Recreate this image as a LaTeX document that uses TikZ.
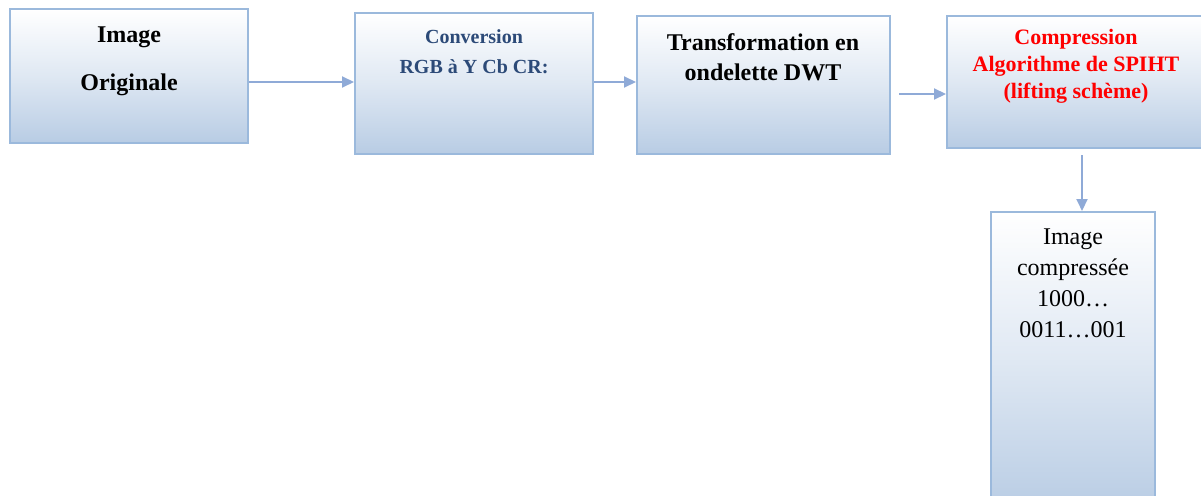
\documentclass[tikz,border=0pt]{standalone}
\usepackage{fontspec}
\setmainfont{Liberation Serif}
\usetikzlibrary{arrows.meta}
\definecolor{boxborder}{RGB}{155,185,220}
\definecolor{boxbottom}{RGB}{184,204,228}
\definecolor{arrowcol}{RGB}{143,170,215}
\definecolor{convblue}{RGB}{44,74,120}
\tikzset{
  box/.style={draw=boxborder, line width=2pt, top color=white, bottom color=boxbottom, middle color=white!55!boxbottom, shading angle=0, inner sep=0pt},
  lbl/.style={anchor=north, inner sep=0pt, align=center},
  conn/.style={draw=arrowcol, line width=2pt, -{Triangle[length=12pt,width=11pt]}}
}
\begin{document}
\begin{tikzpicture}[x=1pt,y=-1pt]
\useasboundingbox (0,0) rectangle (1201,495);
\clip (0,0) rectangle (1201,495);
\node[box, minimum width=238pt, minimum height=134pt] (b1) at (129,76) {};
\node[box, minimum width=238pt, minimum height=141pt] (b2) at (474,83.5) {};
\node[box, minimum width=253pt, minimum height=138pt] (b3) at (763.5,85) {};
\node[box, minimum width=268pt, minimum height=132pt] (b4) at (1081,82) {};
\node[box, minimum width=164pt, minimum height=300pt] (b5) at (1073,362) {};

\node[lbl, font=\fontsize{24}{48}\selectfont\bfseries] (t1) at (129,27) {Image\\Originale};
\node[lbl, font=\fontsize{20}{30}\selectfont\bfseries, text=convblue] (t2) at (474,29) {Conversion\\RGB à Y Cb CR:};
\node[lbl, font=\fontsize{24}{30}\selectfont\bfseries] (t3) at (763,33) {Transformation en\\ondelette DWT};
\node[lbl, font=\fontsize{22}{27}\selectfont\bfseries, text=red] (t4) at (1076,29) {Compression\\Algorithme de SPIHT\\(lifting schème)};
\node[lbl, font=\fontsize{24}{31}\selectfont] (t5) at (1073,229) {Image\\compressée\\1000…\\0011…001};

\coordinate (a1s) at (b1.east |- 0,82);
\coordinate (a2s) at (b2.east |- 0,82);
\coordinate (a3s) at (899,94);
\coordinate (a4s) at (1082,155);
\draw[conn] (a1s) -- (a1s -| b2.west);
\draw[conn] (a2s) -- (a2s -| b3.west);
\draw[conn] (a3s) -- (a3s -| b4.west);
\draw[conn] (a4s) -- (a4s |- b5.north);
\end{tikzpicture}
\end{document}
